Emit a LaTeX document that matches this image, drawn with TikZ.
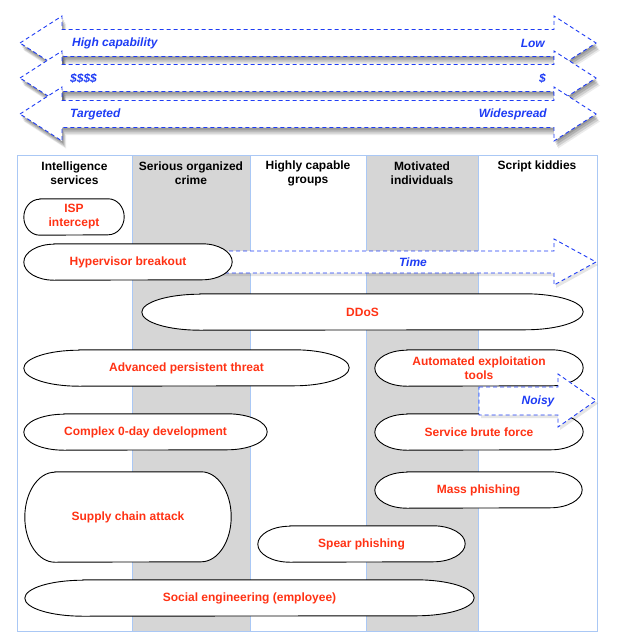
\documentclass[tikz,border=0pt]{standalone}
\usepackage{fontspec}
\setmainfont{Liberation Sans}
\usetikzlibrary{shadows}
\definecolor{lblue}{RGB}{170,200,245}
\definecolor{colgray}{RGB}{214,214,214}
\definecolor{arrblue}{RGB}{30,60,245}
\definecolor{pillred}{RGB}{255,50,20}
\pgfdeclarelayer{cols}
\pgfdeclarelayer{timel}
\pgfdeclarelayer{pills}
\pgfsetlayers{cols,timel,pills,main}
\tikzset{
  hdr/.style={font=\fontsize{12}{14}\selectfont\bfseries, align=center, inner sep=0pt, text=black},
  pilltext/.style={font=\fontsize{12}{14}\selectfont\bfseries, text=pillred, align=center, inner sep=0pt},
  pillline/.style={draw=black, line width=0.9pt, fill=white},
  bigarr/.style={draw=arrblue, line width=0.9pt, dash pattern=on 4pt off 3pt, fill=white,
    drop shadow={shadow xshift=1pt, shadow yshift=-2pt, opacity=0.14, fill=black},
    drop shadow={shadow xshift=2pt, shadow yshift=-4pt, opacity=0.14, fill=black},
    drop shadow={shadow xshift=3pt, shadow yshift=-6pt, opacity=0.12, fill=black},
    drop shadow={shadow xshift=4pt, shadow yshift=-7.5pt, opacity=0.08, fill=black}},
  smallarr/.style={draw=arrblue, line width=0.9pt, dash pattern=on 4pt off 3pt, fill=white,
    drop shadow={shadow xshift=2pt, shadow yshift=-3pt, opacity=0.1, fill=black}},
  arrlabel/.style={font=\fontsize{12}{14}\selectfont\bfseries\itshape, text=arrblue, inner sep=0pt},
}
\newcommand\pill[7]{%
  \node[pilltext, minimum width=#4pt, minimum height=#5pt] (#1) at (#2,#3) {#7};
  \begin{pgfonlayer}{pills}
  \draw[pillline] ([xshift=#6pt]#1.north west) -- ([xshift=-#6pt]#1.north east)
    arc[start angle=90, end angle=-90, x radius=#6pt, y radius={(#5)*0.5pt}]
    -- ([xshift=#6pt]#1.south west)
    arc[start angle=270, end angle=90, x radius=#6pt, y radius={(#5)*0.5pt}] -- cycle;
  \end{pgfonlayer}}
\newcommand\bigarrow[1]{%
  \path[bigarr] (20,#1) -- (62,{#1-27}) -- (62,{#1-13.5}) -- (554,{#1-13.5}) -- (554,{#1-27})
    -- (596,#1) -- (554,{#1+27}) -- (554,{#1+13.5}) -- (62,{#1+13.5}) -- (62,{#1+27}) -- cycle;}
\begin{document}
\begin{tikzpicture}[x=1pt,y=-1pt]
\useasboundingbox (0,0) rectangle (616,642);
% columns
\begin{pgfonlayer}{cols}
\fill[white] (0,0) rectangle (616,642);
\fill[colgray] (132,155) rectangle (250,631);
\fill[colgray] (366,155) rectangle (478,631);
\draw[lblue, line width=0.9pt] (17,155) rectangle (597,631);
\foreach \xx in {132,250,366,478} \draw[lblue, line width=0.9pt] (\xx,155) -- (\xx,631);
\end{pgfonlayer}
% top arrows
\bigarrow{43}
\bigarrow{78}
\bigarrow{114}
\node[arrlabel, anchor=west] (hc) at (72,43) {High capability};
\node[arrlabel, anchor=east] (lo) at (545,43) {Low};
\node[arrlabel, anchor=west] (d4) at (70,78) {\$\$\$\$};
\node[arrlabel, anchor=east] (d1) at (546,78) {\$};
\node[arrlabel, anchor=west] (tg) at (70,114) {Targeted};
\node[arrlabel, anchor=east] (ws) at (547,114) {Widespread};
% headers
\node[hdr] (h1) at (74.5,173) {Intelligence\\services};
\node[hdr] (h2) at (191,173) {Serious organized\\crime};
\node[hdr] (h3) at (308,173) {Highly capable\\groups};
\node[hdr] (h4) at (422,173) {Motivated\\individuals};
\node[hdr] (h5) at (537,166) {Script kiddies};
% time arrow
\begin{pgfonlayer}{timel}
\path[smallarr] (215,251) -- (554,251) -- (554,239) -- (596,262) -- (554,285) -- (554,273) -- (215,273) -- cycle;
\end{pgfonlayer}
\node[arrlabel] (time) at (413,262) {Time};
% pills
\pill{isp}{74}{217}{100}{36}{16}{ISP\\intercept}
\pill{hyp}{128}{262}{208}{36}{30}{Hypervisor breakout}
\pill{ddos}{362.5}{312}{441}{36}{58}{DDoS}
\pill{apt}{186.5}{368}{325}{36}{55}{Advanced persistent threat}
\pill{auto}{479}{368}{208}{36}{32}{Automated exploitation\\tools}
\pill{zero}{145.5}{432}{243}{36}{40}{Complex 0-day development}
\pill{brute}{479}{432}{208}{36}{32}{Service brute force}
\pill{mass}{478.5}{490}{207}{36}{32}{Mass phishing}
\pill{supply}{128}{517}{206}{90}{30}{Supply chain attack}
\pill{spear}{361.5}{544}{207}{36}{32}{Spear phishing}
\pill{social}{249.5}{598}{449}{36}{58}{Social engineering (employee)}
% noisy arrow
\path[smallarr] (479,387) -- (558,387) -- (558,374) -- (596,400.5) -- (558,427) -- (558,415) -- (479,415) -- cycle;
\node[arrlabel] (noisy) at (538,401) {Noisy};
\end{tikzpicture}
\end{document}
